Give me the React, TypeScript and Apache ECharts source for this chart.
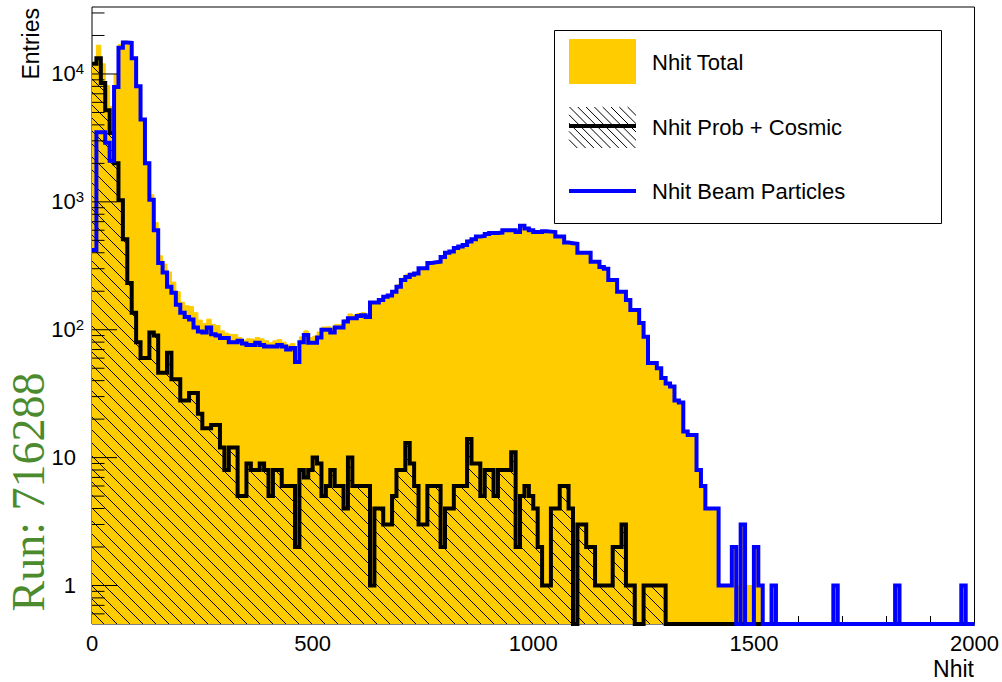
import React, { useEffect, useRef } from "react";
import * as echarts from "echarts";

// ---- axis setup ----
const BIN_WIDTH = 10;
const X_MIN = 0;
const X_MAX = 2000;
const X_INTERVAL = 500;
const Y_MIN = 0.5;
const Y_MAX = 33400;
const Y_DECADES = [1, 10, 100, 1000, 10000];

// ---- histogram contents (entries per 10-hit bin, bins 0..199) ----
const nhitTotal = [
  12400, 16800, 12000, 8100, 5550, 9900, 17030, 18110, 17730, 13440,
  8080, 4460, 2060, 1135, 690, 379, 326, 283, 236, 198,
  164, 154, 152, 136, 119, 112, 121, 110, 108, 98,
  94, 92, 92, 87, 83, 85, 84, 87, 85, 82,
  79, 82, 84, 80, 76, 78, 58, 88, 98, 87,
  89, 96, 105, 106, 103, 110, 110, 120, 133, 129,
  134, 136, 132, 164, 167, 175, 184, 188, 203, 225,
  253, 272, 278, 281, 306, 306, 339, 343, 346, 372,
  404, 414, 441, 454, 466, 504, 519, 544, 545, 568,
  578, 575, 583, 608, 608, 611, 582, 655, 626, 605,
  584, 582, 591, 586, 584, 539, 541, 486, 479, 470,
  403, 403, 402, 342, 341, 311, 301, 246, 247, 200,
  201, 172, 144, 143, 113, 89, 56, 56, 51, 43,
  38, 36, 28, 27, 16, 15, 15, 8, 6, 4,
  4, 4, 1, 1, 1, 2, 1, 3, 1, 1,
  2, 1, 0, 0, 1, 0, 0, 0, 0, 0,
  0, 0, 0, 0, 0, 0, 0, 0, 1, 0,
  0, 0, 0, 0, 0, 0, 0, 0, 0, 0,
  0, 0, 1, 0, 0, 0, 0, 0, 0, 0,
  0, 0, 0, 0, 0, 0, 0, 1, 0, 0,
];

const nhitProbCosmic = [
  12000, 13300, 8500, 5200, 3450, 2000, 1030, 510, 232, 136,
  80, 60, 60, 95, 90, 46, 46, 66, 41, 41,
  28, 28, 32, 32, 22, 17, 17, 18, 18, 12,
  8, 12, 12, 5, 5, 9, 8, 8, 9, 8,
  5, 8, 8, 6, 6, 6, 2, 8, 7, 8,
  10, 9, 5, 6, 8, 6, 6, 4, 10, 6,
  6, 6, 6, 1, 4, 4, 3, 3, 5, 8,
  8, 13, 9, 6, 3, 3, 6, 6, 6, 2,
  4, 4, 6, 6, 6, 14, 9, 9, 5, 8,
  8, 5, 8, 8, 8, 11, 2, 5, 6, 5,
  4, 2, 1, 1, 4, 4, 6, 6, 4, 0,
  3, 3, 2, 2, 1, 1, 1, 1, 2, 2,
  3, 1, 1, 0, 0, 1, 1, 1, 1, 1,
  0, 0, 0, 0, 0, 0, 0, 0, 0, 0,
  0, 0, 0, 0, 0, 0, 0, 0, 0, 0,
  0, 0, 0, 0, 0, 0, 0, 0, 0, 0,
  0, 0, 0, 0, 0, 0, 0, 0, 0, 0,
  0, 0, 0, 0, 0, 0, 0, 0, 0, 0,
  0, 0, 0, 0, 0, 0, 0, 0, 0, 0,
  0, 0, 0, 0, 0, 0, 0, 0, 0, 0,
];

const nhitBeam = [
  420, 3500, 3500, 2900, 2100, 7900, 16000, 17600, 17500, 13300,
  8000, 4400, 2000, 1040, 600, 333, 280, 217, 195, 157,
  136, 126, 120, 104, 97, 95, 104, 92, 90, 86,
  86, 80, 80, 82, 78, 76, 76, 79, 76, 74,
  74, 74, 76, 74, 70, 72, 56, 80, 91, 79,
  79, 87, 100, 100, 95, 104, 104, 116, 123, 123,
  128, 130, 126, 163, 163, 171, 181, 185, 198, 217,
  245, 259, 269, 275, 303, 303, 333, 337, 340, 370,
  400, 410, 435, 448, 460, 490, 510, 535, 540, 560,
  570, 570, 575, 600, 600, 600, 580, 650, 620, 600,
  580, 580, 590, 585, 580, 535, 535, 480, 475, 470,
  400, 400, 400, 340, 340, 310, 300, 245, 245, 198,
  198, 171, 143, 143, 113, 88, 55, 55, 50, 42,
  38, 36, 28, 27, 16, 15, 15, 8, 6, 4,
  4, 4, 1, 1, 1, 2, 0, 3, 0, 0,
  2, 1, 0, 0, 1, 0, 0, 0, 0, 0,
  0, 0, 0, 0, 0, 0, 0, 0, 1, 0,
  0, 0, 0, 0, 0, 0, 0, 0, 0, 0,
  0, 0, 1, 0, 0, 0, 0, 0, 0, 0,
  0, 0, 0, 0, 0, 0, 0, 1, 0, 0,
];

const LEGEND_LABELS = ["Nhit Total", "Nhit Prob + Cosmic", "Nhit Beam Particles"];
const X_TITLE = "Nhit";
const Y_TITLE = "Entries";
const RUN_LABEL = "Run: 716288";

const YELLOW = "#ffcc00";
const BLUE = "#0000ff";
const BLACK = "#000000";
const GREEN = "#4c8a2e";
const FONT = "'Liberation Sans', Arial, Helvetica, sans-serif";

function histPoints(values: number[]) {
  const pts: number[][] = values.map((v, i) => [X_MIN + i * BIN_WIDTH, v > 0 ? v : Y_MIN]);
  const last = values[values.length - 1];
  pts.push([X_MIN + values.length * BIN_WIDTH, last > 0 ? last : Y_MIN]);
  return pts;
}

function hatchURL(spacing: number, lw: number) {
  const c = document.createElement("canvas");
  c.width = spacing;
  c.height = spacing;
  const ctx = c.getContext("2d")!;
  ctx.strokeStyle = "#000";
  ctx.lineWidth = lw;
  ctx.beginPath();
  for (let k = -1; k <= 1; k++) {
    ctx.moveTo(k * spacing, 0);
    ctx.lineTo(k * spacing + spacing, spacing);
  }
  ctx.stroke();
  return c.toDataURL();
}

function yTickList() {
  const out: number[][] = [];
  Y_DECADES.forEach((d) => out.push([X_MIN, d, 25]));
  [0.1, 1, 10, 100, 1000, 10000].forEach((d) => {
    for (let k = 2; k <= 9; k++) {
      const v = k * d;
      if (v > Y_MIN * 1.0001 && v < Y_MAX) out.push([X_MIN, v, 12.5]);
    }
  });
  return out;
}

function legendHatch(x0: number, y0: number, w: number, h: number, step: number) {
  const els: any[] = [];
  for (let c = x0 - h; c < x0 + w; c += step) {
    let sx = c, sy = y0;
    if (sx < x0) { sy = y0 + (x0 - sx); sx = x0; }
    let ex = c + h, ey = y0 + h;
    if (ex > x0 + w) { ey = y0 + (x0 + w - c); ex = x0 + w; }
    if (ey <= sy) continue;
    els.push({
      type: "line",
      shape: { x1: sx, y1: sy, x2: ex, y2: ey },
      style: { stroke: "#000", lineWidth: 1 },
    });
  }
  return els;
}

function textStyle(text: string, font: string, fill: string, align: string, vAlign: string) {
  return {
    text,
    font,
    fill,
    align,
    verticalAlign: vAlign,
    textAlign: align,
    textVerticalAlign: vAlign,
  };
}

export default function App() {
  const ref = useRef<HTMLDivElement>(null);
  useEffect(() => {
    if (!ref.current) return;
    const chart = echarts.init(ref.current, null, { renderer: "svg" });
    const hatch = hatchURL(13, 1);

    const option: any = {
      animation: false,
      backgroundColor: "#ffffff",
      grid: {
        left: 92,
        right: 27,
        top: 7,
        bottom: 58,
        show: true,
        borderColor: "#000",
        borderWidth: 1,
        backgroundColor: "transparent",
      },
      xAxis: {
        type: "value",
        min: X_MIN,
        max: X_MAX,
        interval: X_INTERVAL,
        axisLine: { show: false },
        splitLine: { show: false },
        axisTick: { show: true, inside: true, length: 16, lineStyle: { color: "#000", width: 1 } },
        minorTick: { show: true, splitNumber: 5, length: 8, lineStyle: { color: "#000", width: 1 } },
        axisLabel: {
          color: "#000",
          fontSize: 22,
          fontFamily: FONT,
          margin: 8,
          formatter: (v: number) => String(v),
        },
      },
      yAxis: {
        type: "log",
        logBase: 10,
        min: Y_MIN,
        max: Y_MAX,
        splitNumber: 5,
        axisLine: { show: false },
        axisTick: { show: false },
        splitLine: { show: false },
        minorTick: { show: false },
        axisLabel: {
          margin: 8,
          color: "#000",
          formatter: (v: number) => {
            const e = Math.round(Math.log10(v));
            if (Math.abs(v / Math.pow(10, e) - 1) > 1e-6) return "";
            if (e === 0) return "{p|1}";
            if (e === 1) return "{p|10}";
            return "{b|10}{s|" + e + "}";
          },
          rich: {
            p: { fontSize: 22, fontFamily: FONT, color: "#000", padding: [0, 8, 0, 0], lineHeight: 26 },
            b: { fontSize: 22, fontFamily: FONT, color: "#000", lineHeight: 26 },
            s: { fontSize: 15, fontFamily: FONT, color: "#000", verticalAlign: "top", lineHeight: 15 },
          },
        },
      },
      series: [
        {
          name: LEGEND_LABELS[0],
          type: "line",
          step: "end",
          symbol: "none",
          silent: true,
          z: 1,
          data: histPoints(nhitTotal),
          lineStyle: { color: YELLOW, width: 1 },
          areaStyle: { color: YELLOW, opacity: 1, origin: "start" },
        },
        {
          name: LEGEND_LABELS[1],
          type: "line",
          step: "end",
          symbol: "none",
          silent: true,
          z: 2,
          data: histPoints(nhitProbCosmic),
          lineStyle: { color: BLACK, width: 4, join: "miter" },
          areaStyle: {
            color: { image: hatch, repeat: "repeat", imageWidth: 13, imageHeight: 13 },
            opacity: 1,
            origin: "start",
          },
        },
        {
          name: LEGEND_LABELS[2],
          type: "line",
          step: "end",
          symbol: "none",
          silent: true,
          z: 3,
          data: histPoints(nhitBeam),
          lineStyle: { color: BLUE, width: 4, join: "miter" },
        },
        {
          type: "custom",
          coordinateSystem: "cartesian2d",
          silent: true,
          z: 10,
          clip: false,
          data: yTickList(),
          encode: { x: 0, y: 1 },
          renderItem: (params: any, api: any) => {
            const p = api.coord([api.value(0), api.value(1)]);
            const len = api.value(2);
            return {
              type: "line",
              shape: { x1: p[0], y1: p[1], x2: p[0] + len, y2: p[1] },
              style: { stroke: "#000", lineWidth: 1 },
            };
          },
        },
      ],
      graphic: [
        {
          type: "text",
          x: 31,
          y: 8,
          rotation: Math.PI / 2,
          z: 100,
          style: textStyle(Y_TITLE, `23px ${FONT}`, "#000", "right", "middle"),
        },
        {
          type: "text",
          x: 974,
          y: 669,
          z: 100,
          style: textStyle(X_TITLE, `23px ${FONT}`, "#000", "right", "middle"),
        },
        {
          type: "text",
          x: 28,
          y: 492,
          rotation: Math.PI / 2,
          z: 100,
          style: textStyle(RUN_LABEL, `46px 'Liberation Serif', 'Times New Roman', serif`, GREEN, "center", "middle"),
        },
        {
          type: "group",
          z: 100,
          children: [
            {
              type: "rect",
              shape: { x: 554.5, y: 30.5, width: 387, height: 193 },
              style: { fill: "#fff", stroke: "#000", lineWidth: 1 },
            },
            {
              type: "rect",
              shape: { x: 569, y: 39, width: 67, height: 45 },
              style: { fill: YELLOW },
            },
            ...legendHatch(569, 107, 67, 41, 8.3),
            {
              type: "line",
              shape: { x1: 569, y1: 126, x2: 636, y2: 126 },
              style: { stroke: BLACK, lineWidth: 4 },
            },
            {
              type: "line",
              shape: { x1: 569, y1: 191, x2: 636, y2: 191 },
              style: { stroke: BLUE, lineWidth: 4 },
            },
            {
              type: "text",
              x: 652,
              y: 62,
              style: textStyle(LEGEND_LABELS[0], `22px ${FONT}`, "#000", "left", "middle"),
            },
            {
              type: "text",
              x: 652,
              y: 127,
              style: textStyle(LEGEND_LABELS[1], `22px ${FONT}`, "#000", "left", "middle"),
            },
            {
              type: "text",
              x: 652,
              y: 191,
              style: textStyle(LEGEND_LABELS[2], `22px ${FONT}`, "#000", "left", "middle"),
            },
          ],
        },
      ],
    };

    chart.setOption(option);
    return () => chart.dispose();
  }, []);

  return (
    <div
      ref={ref}
      style={{ position: "fixed", left: 0, top: 0, width: 1002, height: 682, background: "#fff" }}
    />
  );
}
